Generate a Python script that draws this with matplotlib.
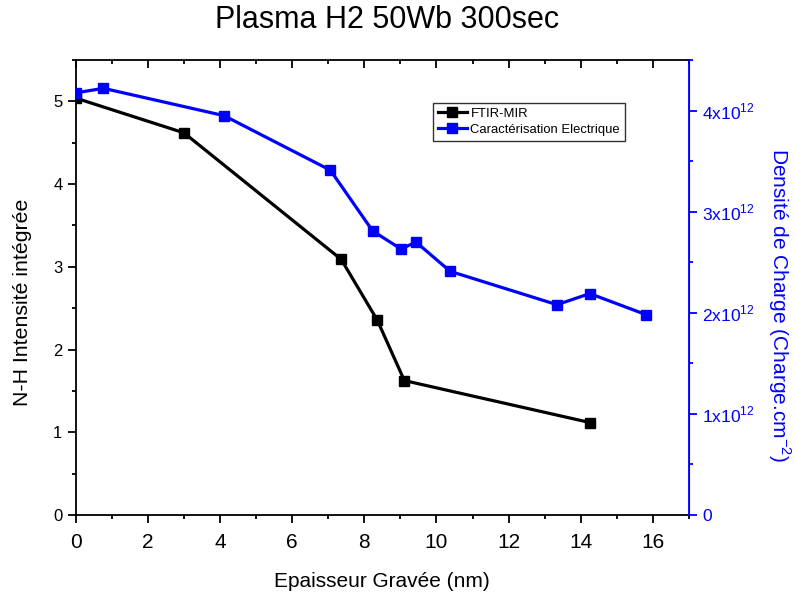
import matplotlib.pyplot as plt
import matplotlib.ticker as mticker

plt.rcParams['font.family'] = ['Liberation Sans', 'DejaVu Sans']
plt.rcParams['mathtext.fontset'] = 'custom'
plt.rcParams['mathtext.rm'] = 'Liberation Sans'

# FTIR-MIR (left axis)
ftir_x = [0.0, 3.0, 7.36, 8.36, 9.11, 14.26]
ftir_y = [5.04, 4.62, 3.09, 2.355, 1.625, 1.117]

# Caracterisation electrique (right axis, charge.cm-2)
elec_x = [0.0, 0.77, 4.11, 7.06, 8.23, 9.02, 9.43, 10.38, 13.34, 14.25, 15.82]
elec_y = [4.175e12, 4.22e12, 3.95e12, 3.41e12, 2.81e12, 2.63e12, 2.70e12,
          2.41e12, 2.08e12, 2.19e12, 1.98e12]

blue = '#0000ff'

fig = plt.figure(figsize=(7.95, 5.96), dpi=100)
ax = fig.add_axes([0.0952, 0.1359, 0.7715, 0.7634])
ax2 = ax.twinx()

l1, = ax.plot(ftir_x, ftir_y, '-s', color='black', lw=2.3, ms=6.5,
              label='FTIR-MIR')
l2, = ax2.plot(elec_x, elec_y, '-s', color=blue, lw=2.3, ms=6.5,
               label='Caractérisation Electrique')

ax.set_xlim(0, 17)
ax.set_ylim(0, 5.5)
ax2.set_ylim(0, 4.5e12)

ax.xaxis.set_major_locator(mticker.MultipleLocator(2))
ax.xaxis.set_minor_locator(mticker.MultipleLocator(1))
ax.yaxis.set_major_locator(mticker.MultipleLocator(1))
ax.yaxis.set_minor_locator(mticker.MultipleLocator(0.5))
ax2.yaxis.set_major_locator(mticker.MultipleLocator(1e12))
ax2.yaxis.set_minor_locator(mticker.MultipleLocator(0.5e12))


def charge_fmt(v, pos):
    n = int(round(v / 1e12))
    if n == 0:
        return '0'
    return r'%dx10$^{12}$' % n


ax2.yaxis.set_major_formatter(mticker.FuncFormatter(charge_fmt))

ax.tick_params(axis='x', which='both', direction='out', top=True,
               labelsize=15, width=1.3, pad=7)
ax.tick_params(axis='x', which='major', length=6)
ax.tick_params(axis='x', which='minor', length=3)
ax.tick_params(axis='y', which='both', direction='out', labelsize=12,
               width=1.3)
ax.tick_params(axis='y', which='major', length=6)
ax.tick_params(axis='y', which='minor', length=3)
# top ticks point into the plot
for t in ax.xaxis.get_major_ticks() + ax.xaxis.get_minor_ticks():
    t.tick2line.set_marker(3)

ax2.tick_params(axis='y', which='both', direction='out', colors=blue,
                labelsize=12.5, width=1.3)
ax2.tick_params(axis='y', which='major', length=6)
ax2.tick_params(axis='y', which='minor', length=3)

for s in ['left', 'bottom', 'top']:
    ax.spines[s].set_linewidth(1.3)
ax2.spines['right'].set_color(blue)
ax2.spines['right'].set_linewidth(1.3)
ax2.spines['left'].set_visible(False)
ax2.spines['top'].set_visible(False)
ax2.spines['bottom'].set_visible(False)

ax.set_xlabel('Epaisseur Gravée (nm)', fontsize=15, labelpad=14)
# y labels sit a bit below the axes centre, as in the original
fig.text(0.0277, 0.493, 'N-H Intensité intégrée', fontsize=15.3,
         rotation=90, ha='center', va='center')
fig.text(0.980, 0.488, r'Densité de Charge (Charge.cm$^{-2}$)', fontsize=15,
         color=blue, rotation=270, ha='center', va='center')
fig.text(0.487, 0.966, 'Plasma H2 50Wb 300sec', fontsize=22,
         ha='center', va='center')

leg = ax.legend(handles=[l1, l2], loc='upper left',
                bbox_to_anchor=(0.583, 0.905), borderaxespad=0,
                fontsize=9.4, frameon=True,
                fancybox=False, edgecolor='black', handlelength=2.2,
                borderpad=0.35, labelspacing=0.3, handletextpad=0.3)
leg.get_frame().set_linewidth(1.0)

fig.savefig('out.png', dpi=100)
